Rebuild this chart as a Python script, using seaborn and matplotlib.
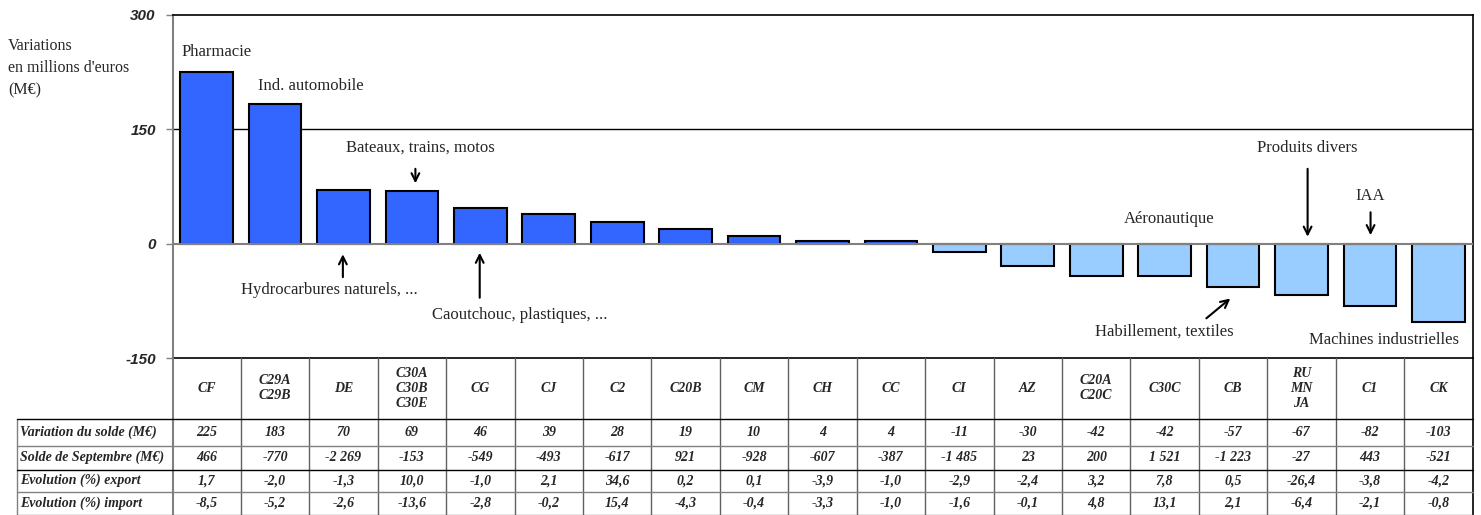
import matplotlib
matplotlib.use("Agg")
import matplotlib.pyplot as plt
import matplotlib.transforms as mtransforms
from matplotlib.lines import Line2D
import seaborn as sns
import pandas as pd

# ---------------- data ----------------
codes = ["CF", "C29A\nC29B", "DE", "C30A\nC30B\nC30E", "CG", "CJ", "C2", "C20B",
         "CM", "CH", "CC", "CI", "AZ", "C20A\nC20C", "C30C", "CB", "RU\nMN\nJA",
         "C1", "CK"]
variation = [225, 183, 70, 69, 46, 39, 28, 19, 10, 4, 4, -11, -30, -42, -42,
             -57, -67, -82, -103]
solde = ["466", "-770", "-2 269", "-153", "-549", "-493", "-617", "921", "-928",
         "-607", "-387", "-1 485", "23", "200", "1 521", "-1 223", "-27", "443",
         "-521"]
export_pct = ["1,7", "-2,0", "-1,3", "10,0", "-1,0", "2,1", "34,6", "0,2", "0,1",
              "-3,9", "-1,0", "-2,9", "-2,4", "3,2", "7,8", "0,5", "-26,4", "-3,8",
              "-4,2"]
import_pct = ["-8,5", "-5,2", "-2,6", "-13,6", "-2,8", "-0,2", "15,4", "-4,3",
              "-0,4", "-3,3", "-1,0", "-1,6", "-0,1", "4,8", "13,1", "2,1", "-6,4",
              "-2,1", "-0,8"]
row_labels = ["Variation du solde (M€)", "Solde de Septembre (M€)",
              "Evolution (%) export", "Evolution (%) import"]
yticks = [300, 150, 0, -150]
ylabel_lines = ["Variations", "en millions d'euros", "(M€)"]

# annotations: (text, x, y, ha) and arrows (x0,y0)->(x1,y1) in data units
annotations = [
    ("Pharmacie", -0.37, 251, "left"),
    ("Ind. automobile", 0.75, 207, "left"),
    ("Bateaux, trains, motos", 3.12, 126, "center"),
    ("Hydrocarbures naturels, ...", 1.80, -61, "center"),
    ("Caoutchouc, plastiques, ...", 4.58, -93, "center"),
    ("Aéronautique", 14.06, 32, "center"),
    ("Habillement, textiles", 14.0, -116, "center"),
    ("Produits divers", 16.09, 125, "center"),
    ("IAA", 17.01, 63, "center"),
    ("Machines industrielles", 17.21, -126, "center"),
]
arrows = [
    ((3.05, 98), (3.05, 79)),
    ((1.99, -44), (1.99, -14)),
    ((3.99, -71), (3.99, -12)),
    ((14.61, -98), (14.96, -72)),
    ((16.09, 98), (16.09, 9)),
    ((17.01, 41), (17.01, 11)),
]

# ---------------- figure ----------------
sns.set_style("white")
plt.rcParams["font.family"] = ["Liberation Serif", "DejaVu Serif"]

W, H = 1481, 515
fig = plt.figure(figsize=(W / 100, H / 100), dpi=100)
ax_left, ax_right, ax_top, ax_bottom = 172.5, 1472.5, 14.7, 358.0
ax = fig.add_axes([ax_left / W, 1 - ax_bottom / H,
                   (ax_right - ax_left) / W, (ax_bottom - ax_top) / H])

df = pd.DataFrame({"code": codes, "variation": variation})
colors = ["#3366FF" if v >= 0 else "#99CCFF" for v in variation]
sns.barplot(data=df, x="code", y="variation", hue="code", palette=colors,
            legend=False, saturation=1, width=0.77, edgecolor="black",
            linewidth=1.5, ax=ax, zorder=3)

ax.set_xlim(-0.5, len(codes) - 0.5)
ax.set_ylim(-150, 300)
ax.set_xticks([])
ax.set_xlabel("")
ax.set_ylabel("")
ax.set_yticks(yticks)
ax.set_yticklabels([str(t) for t in yticks], fontfamily="Liberation Sans",
                   fontweight="bold", fontstyle="italic", fontsize=11)
ax.tick_params(axis="y", length=5, width=1, pad=7, color="#808080", left=True)
for s in ["top", "right", "bottom"]:
    ax.spines[s].set_color("black")
    ax.spines[s].set_linewidth(1.2)
ax.spines["left"].set_color("#808080")
ax.spines["left"].set_linewidth(1.5)
ax.axhline(150, color="black", lw=1, zorder=1)
ax.axhline(0, color="#808080", lw=1.5, zorder=4)

for txt, x, y, ha in annotations:
    ax.text(x, y, txt, ha=ha, va="center", fontsize=12, zorder=5)
for (x0, y0), (x1, y1) in arrows:
    ax.annotate("", xy=(x1, y1), xytext=(x0, y0),
                arrowprops=dict(arrowstyle="->", color="black", lw=1.5,
                                mutation_scale=14, shrinkA=0, shrinkB=0))

# y label
for i, line in enumerate(ylabel_lines):
    fig.text(8 / W, 1 - (46 + 22 * i) / H, line, ha="left", va="center",
             fontsize=11.5)

# ---------------- table ----------------
trans = mtransforms.blended_transform_factory(ax.transData, fig.transFigure)
def fy(py):
    return 1 - py / H

header_top, header_bot = 358.0, 418.5
row_bounds = [418.5, 446, 469.5, 492, 514.5]
n = len(codes)
tfont = dict(fontsize=10, fontweight="bold", fontstyle="italic")

# vertical lines for data columns
for i in range(1, n):
    fig.add_artist(Line2D([i - 0.5, i - 0.5], [fy(header_top), fy(row_bounds[-1])],
                          transform=trans, color="#606060", lw=1))
fig.add_artist(Line2D([n - 0.5, n - 0.5], [fy(header_top), fy(row_bounds[-1])],
                      transform=trans, color="black", lw=1.2))
fig.add_artist(Line2D([-0.5, -0.5], [fy(header_top), fy(row_bounds[-1])],
                      transform=trans, color="#808080", lw=1.5))
# row label column left border
fig.add_artist(Line2D([17 / W, 17 / W], [fy(row_bounds[0]), fy(row_bounds[-1])],
                      transform=fig.transFigure, color="#808080", lw=1))
# horizontal lines
hcolors = ["black", "#808080", "black", "#808080", "#808080"]
for yb, c in zip(row_bounds, hcolors):
    fig.add_artist(Line2D([17 / W, ax_right / W], [fy(yb), fy(yb)],
                          transform=fig.transFigure, color=c, lw=1))

# header cells
for i, c in enumerate(codes):
    fig.text(i, fy((header_top + header_bot) / 2), c, transform=trans,
             ha="center", va="center", linespacing=1.2, **tfont)

rows = [[str(v) for v in variation], solde, export_pct, import_pct]
for r, (lab, vals) in enumerate(zip(row_labels, rows)):
    yc = fy((row_bounds[r] + row_bounds[r + 1]) / 2)
    fig.text(20 / W, yc, lab, ha="left", va="center", **tfont)
    for i, v in enumerate(vals):
        fig.text(i, yc, v, transform=trans, ha="center", va="center", **tfont)

fig.savefig("out.png", dpi=100)
